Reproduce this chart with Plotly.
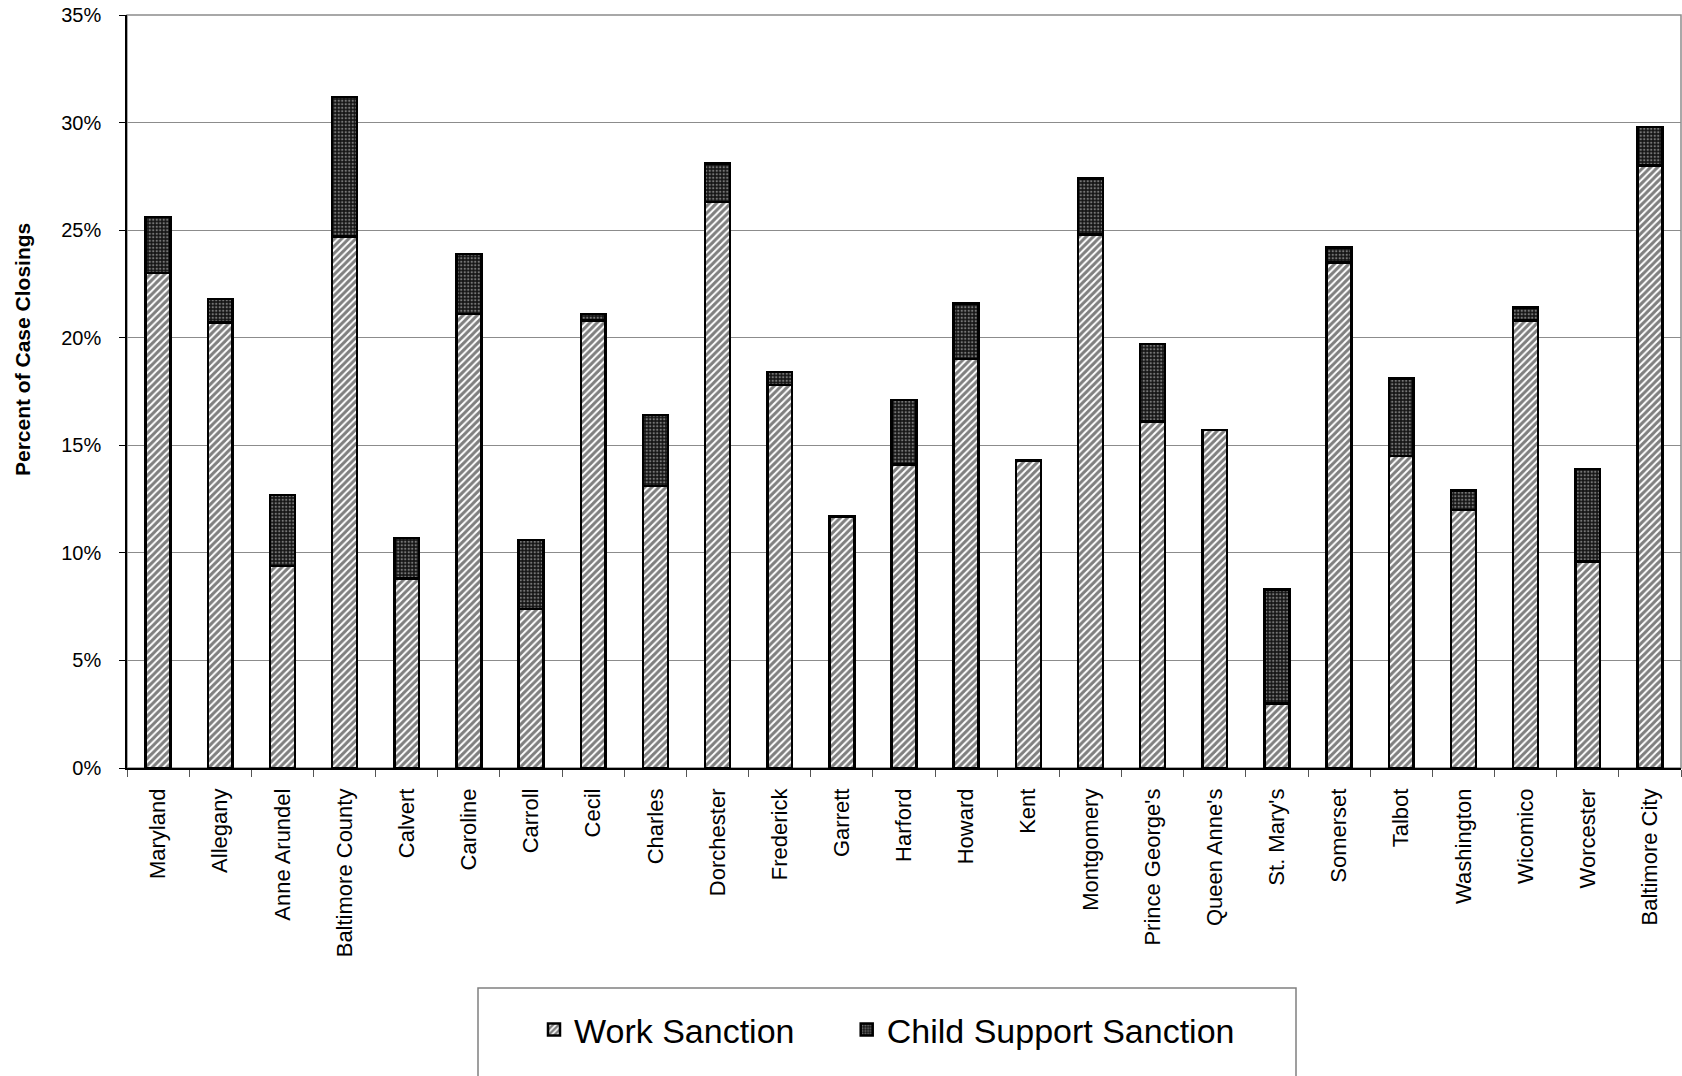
import plotly.graph_objects as go

counties = ["Maryland", "Allegany", "Anne Arundel", "Baltimore County", "Calvert",
            "Caroline", "Carroll", "Cecil", "Charles", "Dorchester", "Frederick",
            "Garrett", "Harford", "Howard", "Kent", "Montgomery", "Prince George's",
            "Queen Anne's", "St. Mary's", "Somerset", "Talbot", "Washington",
            "Wicomico", "Worcester", "Baltimore City"]

work_sanction = [23.0, 20.7, 9.4, 24.7, 8.8, 21.1, 7.4, 20.8, 13.1, 26.3, 17.8,
                 11.7, 14.1, 19.0, 14.3, 24.8, 16.1, 15.7, 3.0, 23.5, 14.5, 12.0,
                 20.8, 9.6, 28.0]

child_support_sanction = [2.6, 1.1, 3.3, 6.5, 1.9, 2.8, 3.2, 0.3, 3.3, 1.8, 0.6,
                          0.0, 3.0, 2.6, 0.0, 2.6, 3.6, 0.0, 5.3, 0.7, 3.6, 0.9,
                          0.6, 4.3, 1.8]

y_ticks = [0, 5, 10, 15, 20, 25, 30, 35]
y_tick_labels = ["0%", "5%", "10%", "15%", "20%", "25%", "30%", "35%"]

W, H = 1682, 1076
L, R, T, B = 127, 1, 15, 308
pw = W - L - R
ph = H - T - B

def px_x(p):
    return (p - L) / pw

def px_y(p):
    return (H - B - p) / ph

FONT = "Liberation Sans, Arial, sans-serif"
NB = "\u00a0"

fig = go.Figure()
fig.add_trace(go.Bar(
    x=counties, y=work_sanction, name="Work Sanction" + NB * 5,
    marker=dict(color="white",
                line=dict(color="black", width=2.5),
                pattern=dict(shape="/", fgcolor="black", bgcolor="white",
                             size=5, solidity=0.6)),
))
fig.add_trace(go.Bar(
    x=counties, y=child_support_sanction, name="Child Support Sanction",
    marker=dict(color="#111111",
                line=dict(color="black", width=2.5),
                pattern=dict(shape=".", fgcolor="#d8d8d8", bgcolor="#151515",
                             size=3.5, solidity=0.35)),
))

fig.update_layout(
    barmode="stack",
    bargap=0.6,
    width=W, height=H,
    margin=dict(l=L, r=R, t=T, b=B, pad=0),
    paper_bgcolor="white",
    plot_bgcolor="white",
    font=dict(family=FONT, size=21, color="black"),
    showlegend=True,
    legend=dict(orientation="h", x=px_x(534), xanchor="left",
                y=px_y(1030), yanchor="middle",
                font=dict(family=FONT, size=34, color="black"),
                bgcolor="rgba(0,0,0,0)", borderwidth=0,
                traceorder="normal"),
    xaxis=dict(tickangle=-90, showline=True, linecolor="black", linewidth=1.5,
               ticks="outside", tickson="boundaries", ticklen=7,
               tickcolor="#555555", showgrid=False,
               tickfont=dict(size=22, family=FONT), ticklabelstandoff=10),
    yaxis=dict(range=[0, 35], tickmode="array", tickvals=y_ticks,
               ticktext=y_tick_labels,
               showline=True, linecolor="black", linewidth=1.5,
               ticks="outside", ticklen=6, tickcolor="black",
               showgrid=True, gridcolor="#8c8c8c", gridwidth=1,
               zeroline=False, tickfont=dict(size=20, family=FONT),
               ticklabelstandoff=14),
    shapes=[
        dict(type="rect", xref="paper", yref="paper", x0=0, x1=1, y0=0, y1=1,
             line=dict(color="#8c8c8c", width=1.5), layer="below"),
        dict(type="rect", xref="paper", yref="paper",
             x0=px_x(478), x1=px_x(1296), y0=px_y(1085), y1=px_y(988),
             line=dict(color="#808080", width=1.5), fillcolor="rgba(0,0,0,0)"),
    ],
    annotations=[
        dict(text="<b>Percent of Case Closings</b>", textangle=-90,
             xref="paper", yref="paper", x=px_x(22), y=px_y(350),
             xanchor="center", yanchor="middle", showarrow=False,
             font=dict(family=FONT, size=21, color="black")),
    ],
)

fig.write_html("out.html")
